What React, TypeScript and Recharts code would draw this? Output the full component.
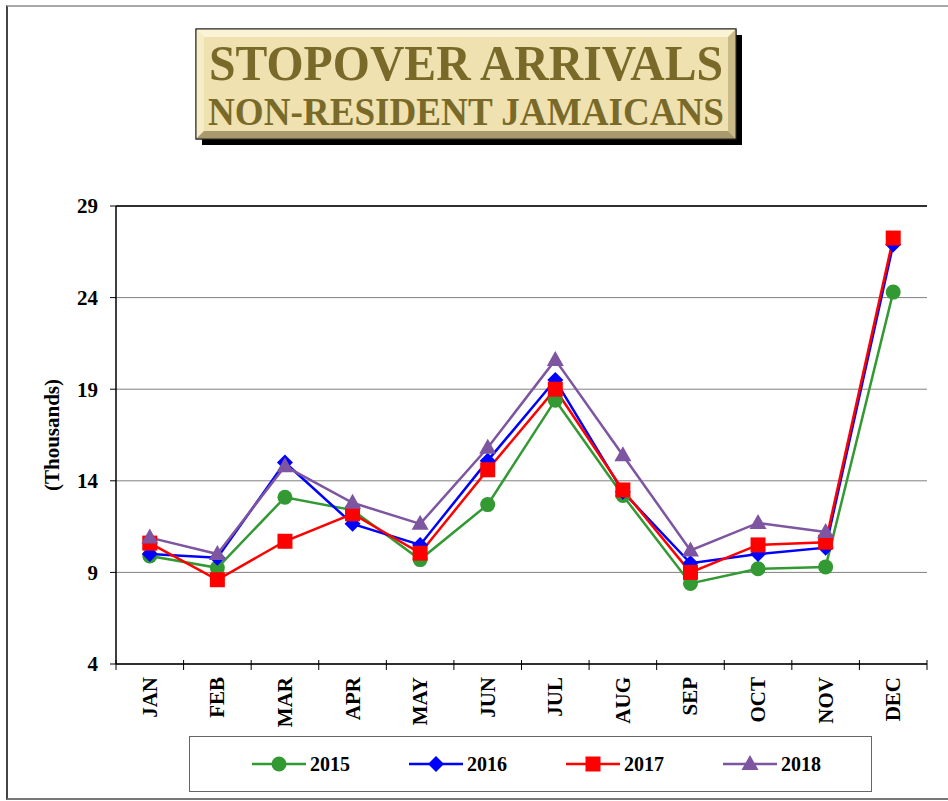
import React from 'react';
import { LineChart, Line, XAxis, YAxis, CartesianGrid, ReferenceLine } from 'recharts';

const MONTHS = ['JAN', 'FEB', 'MAR', 'APR', 'MAY', 'JUN', 'JUL', 'AUG', 'SEP', 'OCT', 'NOV', 'DEC'];
const S2015 = [9.9, 9.25, 13.1, 12.4, 9.7, 12.7, 18.4, 13.2, 8.4, 9.2, 9.3, 24.3];
const S2016 = [10.0, 9.8, 15.0, 11.65, 10.5, 15.1, 19.5, 13.4, 9.5, 10.0, 10.35, 26.9];
const S2017 = [10.6, 8.6, 10.7, 12.2, 10.05, 14.6, 19.0, 13.5, 9.0, 10.5, 10.65, 27.25];
const S2018 = [10.9, 10.0, 14.8, 12.8, 11.65, 15.8, 20.6, 15.4, 10.2, 11.7, 11.2, null];
const Y_TICKS = [4, 9, 14, 19, 24, 29];
const TITLE_1 = 'STOPOVER ARRIVALS';
const TITLE_2 = 'NON-RESIDENT JAMAICANS';
const Y_LABEL = '(Thousands)';

const SERIES = [
  { key: 's2015', name: '2015', values: S2015, color: '#339933', shape: 'circle' },
  { key: 's2016', name: '2016', values: S2016, color: '#0000FF', shape: 'diamond' },
  { key: 's2017', name: '2017', values: S2017, color: '#FF0000', shape: 'square' },
  { key: 's2018', name: '2018', values: S2018, color: '#7D55A0', shape: 'triangle' },
];

const data = MONTHS.map((m, i) => {
  const row: any = { month: m };
  SERIES.forEach((s) => { row[s.key] = s.values[i]; });
  return row;
});

const FONT = '"Liberation Serif", "Times New Roman", Times, serif';
const W = 948;
const H = 801;
const MARGIN = { top: 206, right: 21, left: 56, bottom: 77 };
const Y_AXIS_W = 60;
const PLOT_W = W - MARGIN.left - MARGIN.right - Y_AXIS_W;
const BAND = PLOT_W / MONTHS.length;

function Marker({ shape, cx, cy, color }: any) {
  if (cx == null || cy == null || isNaN(cx) || isNaN(cy)) return <g />;
  if (shape === 'circle') return <circle cx={cx} cy={cy} r={7.5} fill={color} />;
  if (shape === 'square') return <rect x={cx - 7.5} y={cy - 7.5} width={15} height={15} fill={color} />;
  if (shape === 'diamond') {
    const d = 8;
    return <polygon points={`${cx},${cy - d} ${cx + d},${cy} ${cx},${cy + d} ${cx - d},${cy}`} fill={color} />;
  }
  return <polygon points={`${cx},${cy - 9} ${cx + 8.5},${cy + 6} ${cx - 8.5},${cy + 6}`} fill={color} />;
}

const XTick = (props: any) => {
  const { x, y, payload, index } = props;
  return (
    <g>
      <line x1={x - BAND / 2} x2={x - BAND / 2} y1={y - 4} y2={y + 6} stroke="#000" strokeWidth={1} />
      {index === MONTHS.length - 1 && (
        <line x1={x + BAND / 2} x2={x + BAND / 2} y1={y - 4} y2={y + 6} stroke="#000" strokeWidth={1} />
      )}
      <text
        x={x + 7}
        y={y + 13}
        transform={`rotate(-90 ${x + 7} ${y + 13})`}
        textAnchor="end"
        fontFamily={FONT}
        fontWeight="bold"
        fontSize={21}
        fill="#000"
      >
        {payload.value}
      </text>
    </g>
  );
};

const LegendBox = () => (
  <div
    style={{
      position: 'absolute',
      left: 189,
      top: 736,
      width: 683,
      height: 56,
      boxSizing: 'border-box',
      border: '1px solid #666',
      background: '#fff',
    }}
  >
    {SERIES.map((s, i) => (
      <div
        key={s.key}
        style={{ position: 'absolute', left: 61 + 157 * i, top: 0, height: 54, display: 'flex', alignItems: 'center' }}
      >
        <svg width={56} height={20} style={{ display: 'block' }}>
          <line x1={1} x2={55} y1={10} y2={10} stroke={s.color} strokeWidth={2.5} />
          <Marker shape={s.shape} cx={28} cy={10} color={s.color} />
        </svg>
        <span style={{ fontFamily: FONT, fontWeight: 'bold', fontSize: 20, marginLeft: 3, color: '#000' }}>{s.name}</span>
      </div>
    ))}
  </div>
);

const TitleBox = () => {
  const x0 = 196, y0 = 29, x1 = 736, y1 = 139, b = 8;
  return (
    <svg width={W} height={160} style={{ position: 'absolute', left: 0, top: 0, pointerEvents: 'none' }}>
      <rect x={x0 + 6} y={y0 + 6} width={x1 - x0} height={y1 - y0} fill="#000" />
      <rect x={x0} y={y0} width={x1 - x0} height={y1 - y0} fill="#efe2b0" stroke="#222" strokeWidth={1} />
      <polygon points={`${x0},${y0} ${x1},${y0} ${x1 - b},${y0 + b} ${x0 + b},${y0 + b}`} fill="#faf3d6" />
      <polygon points={`${x0},${y0} ${x0 + b},${y0 + b} ${x0 + b},${y1 - b} ${x0},${y1}`} fill="#f6ecc6" />
      <polygon points={`${x1},${y0} ${x1},${y1} ${x1 - b},${y1 - b} ${x1 - b},${y0 + b}`} fill="#c9ba88" />
      <polygon points={`${x0},${y1} ${x0 + b},${y1 - b} ${x1 - b},${y1 - b} ${x1},${y1}`} fill="#a89a6c" />
      <rect x={x0} y={y0} width={x1 - x0} height={y1 - y0} fill="none" stroke="#222" strokeWidth={1} />
      <text
        x={(x0 + x1) / 2}
        y={80}
        textAnchor="middle"
        fontFamily={FONT}
        fontWeight="bold"
        fontSize={50}
        fill="#7a6a2a"
        textLength={514}
        lengthAdjust="spacingAndGlyphs"
      >
        {TITLE_1}
      </text>
      <text
        x={(x0 + x1) / 2}
        y={125}
        textAnchor="middle"
        fontFamily={FONT}
        fontWeight="bold"
        fontSize={40}
        fill="#7a6a2a"
        textLength={516}
        lengthAdjust="spacingAndGlyphs"
      >
        {TITLE_2}
      </text>
    </svg>
  );
};

export default function App() {
  return (
    <div style={{ position: 'absolute', left: 0, top: 0, width: W, height: H, overflow: 'hidden', background: '#fff' }}>
      <div
        style={{
          position: 'absolute',
          left: 6,
          top: 5,
          width: 980,
          height: 795,
          boxSizing: 'border-box',
          borderLeft: '2px solid #444',
          borderTop: '2px solid #a8a8a8',
          borderBottom: '2px solid #777',
        }}
      />
      <div style={{ position: 'absolute', left: 0, top: 0 }}>
        <LineChart width={W} height={H} data={data} margin={MARGIN}>
          <CartesianGrid vertical={false} stroke="#808080" strokeWidth={1} />
          <XAxis
            dataKey="month"
            height={60}
            padding={{ left: BAND / 2, right: BAND / 2 }}
            tickLine={false}
            tickSize={0}
            tickMargin={0}
            axisLine={{ stroke: '#000', strokeWidth: 1.5 }}
            tick={<XTick />}
            interval={0}
          />
          <YAxis
            width={Y_AXIS_W}
            domain={[4, 29]}
            ticks={Y_TICKS}
            type="number"
            allowDataOverflow
            tickSize={6}
            tickMargin={12}
            axisLine={{ stroke: '#000', strokeWidth: 1.5 }}
            tickLine={{ stroke: '#000' }}
            tick={{ fontFamily: FONT, fontWeight: 'bold', fontSize: 21, fill: '#000' }}
            label={{
              content: (p: any) => {
                const vb = p.viewBox || {};
                const cx = 52;
                const cy = vb.y + vb.height / 2;
                return (
                  <text
                    x={cx}
                    y={cy}
                    transform={`rotate(-90 ${cx} ${cy})`}
                    textAnchor="middle"
                    dominantBaseline="central"
                    fontFamily={FONT}
                    fontWeight="bold"
                    fontSize={21}
                    fill="#000"
                  >
                    {Y_LABEL}
                  </text>
                );
              },
            }}
          />
          <YAxis
            yAxisId="r"
            orientation="right"
            width={0}
            domain={[4, 29]}
            tick={false}
            tickLine={false}
            axisLine={{ stroke: '#a0a0a0', strokeWidth: 2 }}
          />
          <ReferenceLine y={29} stroke="#000" strokeWidth={1.5} />
          {SERIES.map((s) => (
            <Line
              key={s.key}
              dataKey={s.key}
              name={s.name}
              stroke={s.color}
              strokeWidth={2.5}
              isAnimationActive={false}
              connectNulls={false}
              dot={(p: any) => <Marker key={`${s.key}-${p.index}`} shape={s.shape} cx={p.cx} cy={p.cy} color={s.color} />}
              activeDot={false}
            />
          ))}
        </LineChart>
      </div>
      <LegendBox />
      <TitleBox />
    </div>
  );
}
